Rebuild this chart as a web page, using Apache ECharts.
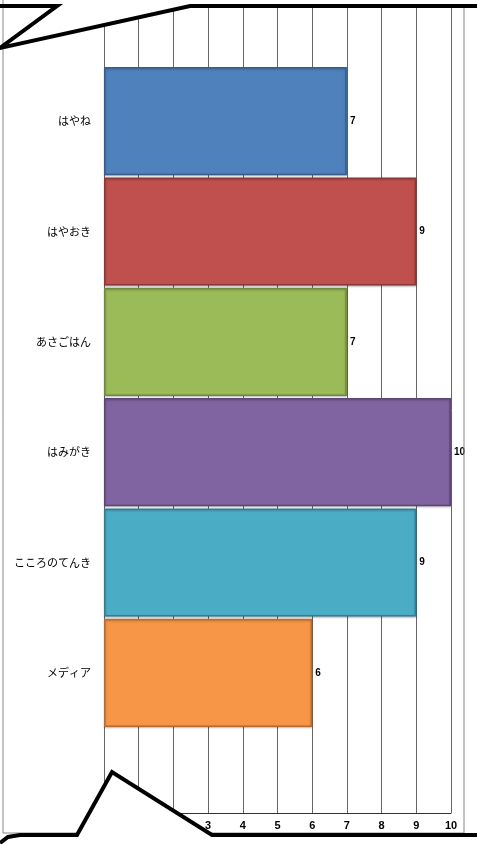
<!DOCTYPE html>
<html>
<head>
<meta charset="utf-8">
<script src="https://cdn.jsdelivr.net/npm/echarts@6/dist/echarts.min.js"></script>
<style>
  html, body { margin: 0; padding: 0; background: #fff; }
  #chart { width: 477px; height: 844px; }
</style>
</head>
<body>
<div id="chart"></div>
<script>
  // data
  const categories = ['はやね', 'はやおき', 'あさごはん', 'はみがき', 'こころのてんき', 'メディア'];
  const values = [7, 9, 7, 10, 9, 6];
  const xTicks = [0, 1, 2, 3, 4, 5, 6, 7, 8, 9, 10];

  // excel 2007 style palette
  const fills = ['#4F81BD', '#C0504D', '#9BBB59', '#8064A2', '#4BACC6', '#F79646'];
  const borders = ['#385D8A', '#8C3836', '#71893F', '#5C4776', '#357D91', '#B66D31'];

  var myChart = echarts.init(document.getElementById('chart'));

  var barData = values.map(function (v, i) {
    return {
      value: v,
      itemStyle: {
        color: fills[i],
        borderColor: borders[i],
        borderWidth: 1.5,
        shadowColor: 'rgba(0,0,0,0.25)',
        shadowBlur: 2,
        shadowOffsetY: 1
      }
    };
  });

  var FONT = '"Noto Sans CJK JP", "Noto Sans", sans-serif';

  myChart.setOption({
    animation: false,
    grid: [
      // background grid: gridlines + bottom labels
      { left: 104, right: 26, top: 8, bottom: 31 },
      // bars
      { left: 104, right: 26, top: 66, bottom: 116 }
    ],
    xAxis: [
      {
        gridIndex: 0,
        type: 'value',
        min: xTicks[0],
        max: xTicks[xTicks.length - 1],
        interval: 1,
        axisLine: { show: true, lineStyle: { color: '#333', width: 1 } },
        axisTick: { show: false },
        splitLine: { show: true, lineStyle: { color: '#666', width: 1 } },
        axisLabel: {
          color: '#000',
          fontSize: 11,
          fontWeight: 'bold',
          fontFamily: 'Arial, "Liberation Sans", sans-serif',
          margin: 7
        }
      },
      {
        gridIndex: 1,
        type: 'value',
        min: 0,
        max: 10,
        show: false
      }
    ],
    yAxis: [
      { gridIndex: 0, type: 'value', show: false },
      {
        gridIndex: 1,
        type: 'category',
        inverse: true,
        data: categories,
        axisLine: { show: false },
        axisTick: { show: false },
        axisLabel: {
          color: '#000',
          fontSize: 11,
          fontFamily: FONT,
          margin: 13
        }
      }
    ],
    series: [
      {
        type: 'bar',
        xAxisIndex: 1,
        yAxisIndex: 1,
        barCategoryGap: '2%',
        data: barData,
        label: {
          show: true,
          position: 'right',
          distance: 3,
          color: '#000',
          fontSize: 10,
          fontWeight: 'bold',
          fontFamily: 'Arial, "Liberation Sans", sans-serif'
        }
      }
    ],
    graphic: [
      // thin outer frame
      {
        type: 'polyline', z: 50, silent: true,
        shape: { points: [[3, 0], [3, 833], [464, 833], [464, 6]] },
        style: { fill: 'none', stroke: '#888', lineWidth: 1 }
      },
      // top-left bubble tail (white wedge)
      {
        type: 'polygon', z: 60, silent: true,
        shape: { points: [[0, 48], [57, 6], [190, 6]] },
        style: { fill: '#fff', stroke: 'none' }
      },
      {
        type: 'polyline', z: 70, silent: true,
        shape: { points: [[0, 6], [57, 6], [0, 48], [190, 6], [477, 6]] },
        style: { stroke: '#000', lineWidth: 4, fill: 'none', lineJoin: 'miter' }
      },
      // bottom bubble
      {
        type: 'polygon', z: 60, silent: true,
        shape: { points: [[0, 844], [0, 842], [8, 837], [20, 835], [77, 835], [112, 772], [212, 835], [477, 835], [477, 844]] },
        style: { fill: '#fff', stroke: 'none' }
      },
      {
        type: 'polyline', z: 70, silent: true,
        shape: { points: [[0, 843], [8, 837], [20, 835], [77, 835], [112, 772], [212, 835], [477, 835]] },
        style: { stroke: '#000', lineWidth: 4, fill: 'none', lineJoin: 'miter' }
      }
    ]
  });

  window.addEventListener('resize', function () {
    myChart.resize();
  });
</script>
</body>
</html>
